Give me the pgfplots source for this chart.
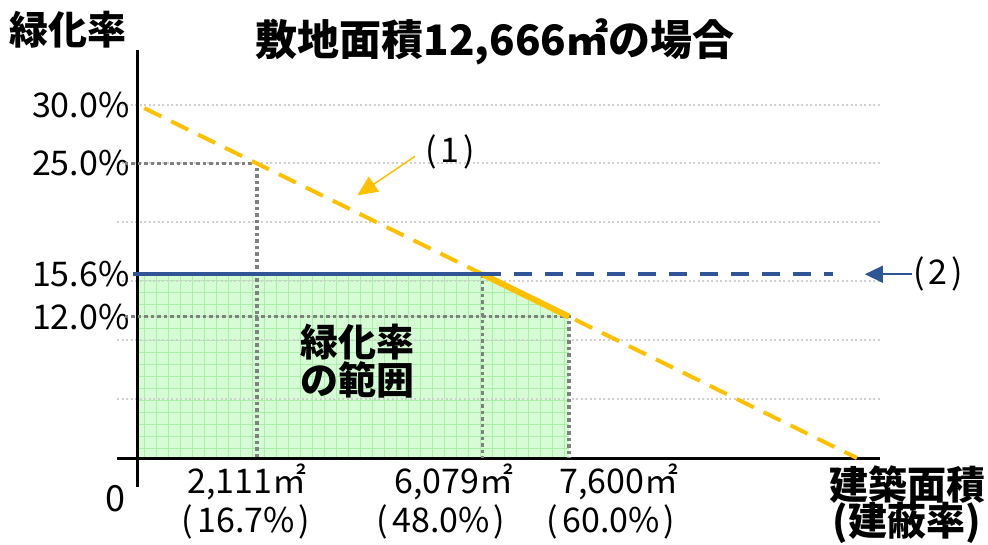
\documentclass[border=0pt]{standalone}
\usepackage{fontspec}
\setmainfont{Noto Sans CJK JP}
\usepackage{pgfplots}
\pgfplotsset{compat=1.18}
\usetikzlibrary{patterns.meta,arrows.meta}

\definecolor{orng}{HTML}{FFC000}
\definecolor{blu}{HTML}{2F5597}
\definecolor{dgrey}{HTML}{808080}
\definecolor{lgrey}{HTML}{D0D0D0}
\definecolor{gfill}{HTML}{D6FCD6}
\definecolor{gline}{HTML}{A8F0A8}

\newcommand{\fs}[1]{\fontsize{#1}{#1}\selectfont}
\newcommand{\pr}[1]{(\hspace{4pt}#1\hspace{4pt})}

\begin{document}
\begin{tikzpicture}[x=1pt,y=1pt]
\begin{axis}[
    at={(117pt,57pt)}, anchor=south west,
    scale only axis,
    width=763pt, height=436.6pt,
    xmin=-2.78, xmax=103.2,
    ymin=-2.46, ymax=34.6,
    axis lines=middle,
    axis line style={-, line width=3pt, black},
    xtick=\empty,
    ytick={5,10,15,20,25,30},
    yticklabels={,,,,25.0\%,30.0\%},
    extra y ticks={12,15.6},
    extra y tick labels={12.0\%,15.6\%},
    extra y tick style={grid=none},
    major tick length=0pt,
    yticklabel style={font=\fs{34}, xshift=-4pt},
    ymajorgrids=true,
    grid style={lgrey, line width=2pt, dash pattern=on 2pt off 2.5pt},
    set layers,
    clip=false,
]
% green range
\addplot[on layer=axis background, draw=none, fill=gfill,
    postaction={pattern={Hatch[distance=12pt, angle=0, line width=0.8pt]}, pattern color=gline}]
    coordinates {(0,0) (0,15.6) (48,15.6) (60,12) (60,0)} \closedcycle;

% grey guide lines
\addplot[dgrey, line width=3.5pt, dash pattern=on 3.5pt off 3pt] coordinates {(-1.7,25) (16.7,25) (16.7,0)};
\addplot[dgrey, line width=3.5pt, dash pattern=on 3.5pt off 3pt] coordinates {(-1.7,12) (60,12) (60,0)};
\addplot[dgrey, line width=3.5pt, dash pattern=on 3.5pt off 3pt] coordinates {(48,15.6) (48,0)};

% (1) limit line
\addplot[orng, line width=4pt, dash pattern=on 19pt off 11pt] coordinates {(1,29.7) (100,0)};
\addplot[orng, line width=6pt] coordinates {(48,15.6) (60,12)};

% (2) limit line
\addplot[blu, line width=4pt] coordinates {(-0.6,15.6) (48,15.6)};
\addplot[blu, line width=3.5pt, dash pattern=on 18pt off 13pt] coordinates {(48,15.6) (96.7,15.6)};

% annotations
\draw[orng, line width=1.5pt, -{Triangle[length=20pt, width=18pt]}] (axis cs:38.6,25.6) -- (axis cs:30.6,22.3);
\node[font=\fs{34}] at (axis cs:43.5,26.0) {\pr{1}};
\draw[blu, line width=1.5pt, -{Triangle[length=18pt, width=17pt]}] (axis cs:107.6,15.6) -- (axis cs:101.1,15.6);
\node[font=\fs{34}, anchor=west, inner sep=0pt] at (axis cs:107.8,15.6) {\pr{2}};
\end{axis}

\node[font=\fs{42}\bfseries] at (495,502) {敷地面積12,666㎡の場合};
\node[font=\fs{39}\bfseries] at (68,514) {緑化率};
\node[font=\fs{38}\bfseries] at (357,202) {緑化率};
\node[font=\fs{38}\bfseries] at (357,164) {の範囲};
\node[font=\fs{39}\bfseries] at (907,59) {建築面積};
\node[font=\fs{39}\bfseries] at (907,21) {(建蔽率)};
\node[font=\fs{36}] at (115,45) {0};
\node[font=\fs{34}] at (247,62) {2,111㎡};
\node[font=\fs{34}] at (246,22) {\pr{16.7\%}};
\node[font=\fs{34}] at (454,62) {6,079㎡};
\node[font=\fs{34}] at (441,22) {\pr{48.0\%}};
\node[font=\fs{34}] at (619,62) {7,600㎡};
\node[font=\fs{34}] at (611,22) {\pr{60.0\%}};
\pgfresetboundingbox
\path (0,0) rectangle (988,544);
\end{tikzpicture}
\end{document}
